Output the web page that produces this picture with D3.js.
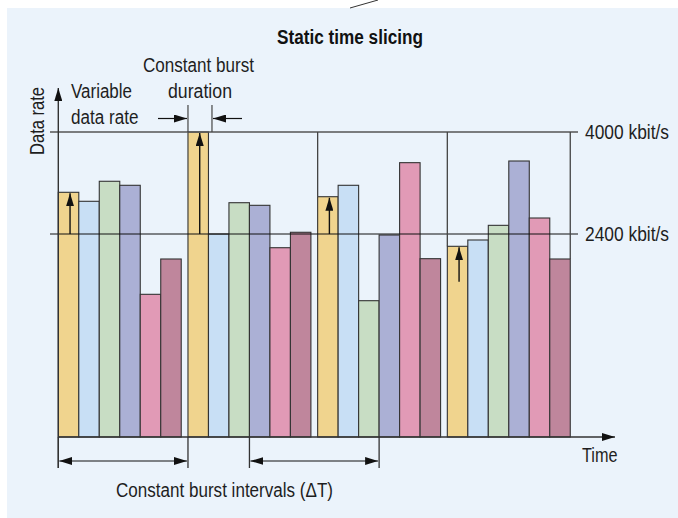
<!DOCTYPE html>
<html>
<head>
<meta charset="utf-8">
<script src="https://cdn.jsdelivr.net/npm/d3@7"></script>
<style>
  body { margin: 0; background: #fff; }
  svg text { font-family: "Liberation Sans", Arial, sans-serif; fill: #1e1e1e; }
</style>
</head>
<body>
<div id="chart"></div>
<script>
// burst intervals and the services sharing each burst
const bursts = [0, 1, 2, 3];
const services = ["S1", "S2", "S3", "S4", "S5", "S6"];
const serviceColors = ["#f0d48e", "#c8dff5", "#c8ddc4", "#abb0d5", "#e19ab6", "#bf869c"];

// data rate of each service in each burst (kbit/s)
const rates = [
    [3054, 2913, 3227, 3164, 1454, 2008],
    [4000, 2400, 2891, 2850, 2185, 2427],
    [2985, 3164, 1354, 2384, 3519, 2013],
    [2207, 2306, 2536, 3545, 2651, 2008]
];

// start level of the arrow inside the first bar of each burst
const arrowFrom = [2400, 2400, 2400, 1650];

const refLevels = [4000, 2400];
const refLabels = ["4000 kbit/s", "2400 kbit/s"];

const burstDuration = 0.948; // share of one burst interval (ΔT)
const baseRate = -784;

const width = 678, height = 518;

const svg = d3.select("#chart")
    .append("svg")
    .attr("width", width)
    .attr("height", height);

const defs = svg.append("defs");
defs.append("marker")
    .attr("id", "head")
    .attr("viewBox", "0 0 13 8")
    .attr("refX", 13)
    .attr("refY", 4)
    .attr("markerWidth", 13)
    .attr("markerHeight", 8)
    .attr("markerUnits", "userSpaceOnUse")
    .attr("orient", "auto-start-reverse")
    .append("path")
    .attr("d", "M0,0L13,4L0,8Z")
    .attr("fill", "#111");

// panel
svg.append("rect")
    .attr("x", 7).attr("y", 8)
    .attr("width", width - 7).attr("height", height - 8)
    .attr("fill", "#ebf3fb");

svg.append("line")
    .attr("x1", 350).attr("y1", 8)
    .attr("x2", 378).attr("y2", 0)
    .attr("stroke", "#333").attr("stroke-width", 1);

const x = d3.scaleLinear().domain([0, bursts.length]).range([58.3, 577]);
const y = d3.scaleLinear().domain([baseRate, 4000]).range([437, 132]);

const slot = burstDuration / services.length;

// bars
const barData = bursts.flatMap(b => services.map((s, i) => ({
    burst: b, i: i, value: rates[b][i]
})));

svg.append("g")
    .selectAll("rect")
    .data(barData)
    .join("rect")
    .attr("x", d => x(d.burst + d.i * slot))
    .attr("y", d => y(d.value))
    .attr("width", d => x(slot) - x(0))
    .attr("height", d => y(baseRate) - y(d.value))
    .attr("fill", d => serviceColors[d.i])
    .attr("stroke", "#333")
    .attr("stroke-width", 1.1);

// reference levels
svg.append("line")
    .attr("x1", 50).attr("x2", x(bursts.length) + 1)
    .attr("y1", y(refLevels[0])).attr("y2", y(refLevels[0]))
    .attr("stroke", "#555").attr("stroke-width", 1.6);
svg.append("line")
    .attr("x1", 50).attr("x2", x(bursts.length) + 1)
    .attr("y1", y(refLevels[1])).attr("y2", y(refLevels[1]))
    .attr("stroke", "#111").attr("stroke-width", 1);

function label(txt, px, py, len, opts = {}) {
    const t = svg.append("text")
        .attr("x", px).attr("y", py)
        .attr("font-size", opts.size || "20px")
        .attr("textLength", len)
        .attr("lengthAdjust", "spacingAndGlyphs")
        .text(txt);
    if (opts.bold) t.attr("font-weight", "bold").style("fill", "#111");
    if (opts.transform) t.attr("transform", opts.transform);
    return t;
}

refLevels.forEach((v, i) => label(refLabels[i], 585, y(v) + 7, 84, {size: "19.5px"}));

// vertical guide lines from the 4000 level down to the bars
const guides = [
    {t: 2, v: rates[2][0]},
    {t: 3, v: rates[3][0]},
    {t: 3 + burstDuration, v: rates[3][5]}
];
svg.selectAll(".guide")
    .data(guides)
    .join("line")
    .attr("class", "guide")
    .attr("x1", d => x(d.t)).attr("x2", d => x(d.t))
    .attr("y1", y(4000)).attr("y2", d => y(d.v))
    .attr("stroke", "#444").attr("stroke-width", 1.3);

// arrows inside the first bar of each burst
svg.selectAll(".rate-arrow")
    .data(bursts)
    .join("line")
    .attr("class", "rate-arrow")
    .attr("x1", b => x(b + slot / 2) + 1.5).attr("x2", b => x(b + slot / 2) + 1.5)
    .attr("y1", b => y(arrowFrom[b]))
    .attr("y2", b => y(rates[b][0]) + 1)
    .attr("stroke", "#111").attr("stroke-width", 1.4)
    .attr("marker-end", "url(#head)");

// axes
const yTop = 88, yBottom = 468;
svg.append("line")
    .attr("x1", x(0)).attr("x2", x(0))
    .attr("y1", yBottom).attr("y2", yTop)
    .attr("stroke", "#333").attr("stroke-width", 1.4)
    .attr("marker-end", "url(#head)");
svg.append("line")
    .attr("x1", x(0)).attr("x2", 615)
    .attr("y1", y(baseRate)).attr("y2", y(baseRate))
    .attr("stroke", "#333").attr("stroke-width", 1.4)
    .attr("marker-end", "url(#head)");

// burst duration markers
const dur0 = x(1), dur1 = x(1) + 24;
[dur0, dur1].forEach(px => {
    svg.append("line")
        .attr("x1", px).attr("x2", px)
        .attr("y1", 105).attr("y2", y(4000))
        .attr("stroke", "#444").attr("stroke-width", 1.2);
});
svg.append("line")
    .attr("x1", dur0 - 30).attr("x2", dur0 - 1)
    .attr("y1", 118.5).attr("y2", 118.5)
    .attr("stroke", "#111").attr("stroke-width", 1.2)
    .attr("marker-end", "url(#head)");
svg.append("line")
    .attr("x1", dur1 + 30).attr("x2", dur1 + 1)
    .attr("y1", 118.5).attr("y2", 118.5)
    .attr("stroke", "#111").attr("stroke-width", 1.2)
    .attr("marker-end", "url(#head)");

// burst interval markers below the axis (each one ΔT long)
const intervalStarts = [0, 1 + 3 * slot];
intervalStarts.forEach(a => {
    const b = a + 1;
    [a, b].forEach(t => {
        svg.append("line")
            .attr("x1", x(t)).attr("x2", x(t))
            .attr("y1", y(baseRate)).attr("y2", yBottom)
            .attr("stroke", "#333").attr("stroke-width", 1.3);
    });
    svg.append("line")
        .attr("x1", x(a) + 1).attr("x2", x(b) - 1)
        .attr("y1", 461).attr("y2", 461)
        .attr("stroke", "#111").attr("stroke-width", 1.2)
        .attr("marker-start", "url(#head)")
        .attr("marker-end", "url(#head)");
});

// texts
label("Static time slicing", 277, 44, 146, {bold: true, size: "20px"});
label("Data rate", 0, 0, 68, {transform: "translate(44,155) rotate(-90)"});
label("Constant burst", 143, 71.5, 111);
label("duration", 168, 98, 64);
label("Variable", 71, 98, 61);
label("data rate", 71, 123.5, 67.5);
label("Time", 582, 461.5, 35.5);
label("Constant burst intervals (ΔT)", 116, 496.5, 217);
</script>
</body>
</html>
